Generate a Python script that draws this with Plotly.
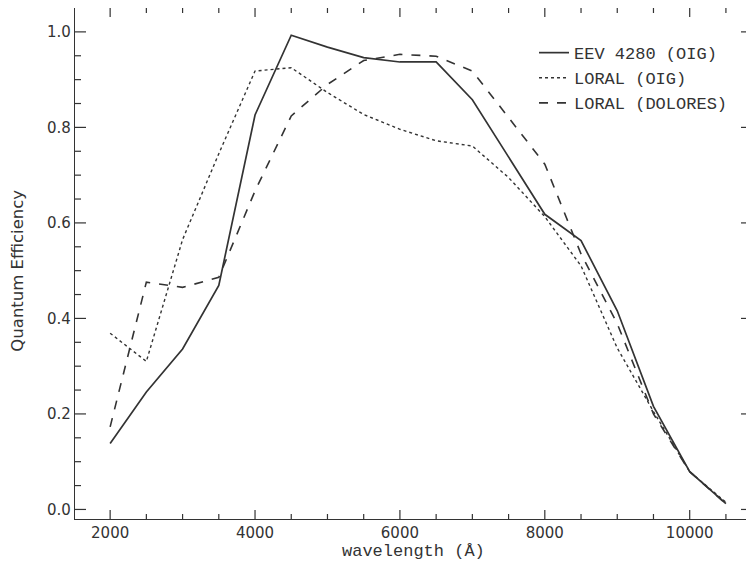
import plotly.graph_objects as go

wavelength = [2000, 2500, 3000, 3500, 4000, 4500, 5000, 5500, 6000, 6500,
              7000, 7500, 8000, 8500, 9000, 9500, 10000, 10500]

eev_oig = [0.138, 0.246, 0.336, 0.469, 0.826, 0.993, 0.968, 0.946, 0.937, 0.937,
           0.858, 0.738, 0.618, 0.563, 0.416, 0.216, 0.079, 0.012]

loral_oig = [0.369, 0.310, 0.565, 0.745, 0.918, 0.925, 0.873, 0.827, 0.796, 0.772,
             0.761, 0.695, 0.613, 0.510, 0.338, 0.205, 0.079, 0.015]

loral_dolores = [0.173, 0.476, 0.465, 0.486, 0.667, 0.824, 0.890, 0.940, 0.953, 0.949,
                 0.918, 0.820, 0.723, 0.535, 0.389, 0.200, 0.079, 0.012]

series_names = ["EEV 4280 (OIG)", "LORAL (OIG)", "LORAL (DOLORES)"]

x_major_ticks = [2000, 4000, 6000, 8000, 10000]
x_tick_labels = ["2000", "4000", "6000", "8000", "10000"]
x_minor_ticks = [2500, 3000, 3500, 4500, 5000, 5500, 6500, 7000, 7500,
                 8500, 9000, 9500, 10500]
y_major_ticks = [0.0, 0.2, 0.4, 0.6, 0.8, 1.0]
y_tick_labels = ["0.0", "0.2", "0.4", "0.6", "0.8", "1.0"]
y_minor_ticks = [0.05, 0.1, 0.15, 0.25, 0.3, 0.35, 0.45, 0.5, 0.55,
                 0.65, 0.7, 0.75, 0.85, 0.9, 0.95]

x_range = [1515, 10860]
y_range = [-0.02, 1.05]

ink = "#333333"

fig = go.Figure()
for name, vals, dash, w in [
    (series_names[0], eev_oig, "solid", 1.7),
    (series_names[1], loral_oig, "dot", 1.4),
    (series_names[2], loral_dolores, "dash", 1.6),
]:
    fig.add_trace(go.Scatter(
        x=wavelength, y=vals, mode="lines", name=name,
        line=dict(color=ink, width=w, dash=dash),
    ))

tickfont = dict(family="DejaVu Sans", size=15, color=ink)

# inward tick marks on all four sides, placed through the axes' own scales
tick_shapes = []
for vals, ln in [(x_major_ticks, 9), (x_minor_ticks, 5)]:
    for v in vals:
        for anchor, sgn in [(0, 1), (1, -1)]:
            tick_shapes.append(dict(
                type="line", xref="x", yref="paper", ysizemode="pixel", yanchor=anchor,
                x0=v, x1=v, y0=0, y1=sgn * ln, layer="above",
                line=dict(color=ink, width=1.2),
            ))
for vals, ln in [(y_major_ticks, 11), (y_minor_ticks, 6)]:
    for v in vals:
        for anchor, sgn in [(0, 1), (1, -1)]:
            tick_shapes.append(dict(
                type="line", xref="paper", yref="y", xsizemode="pixel", xanchor=anchor,
                y0=v, y1=v, x0=0, x1=sgn * ln, layer="above",
                line=dict(color=ink, width=1.2),
            ))

fig.update_layout(
    xaxis=dict(
        range=x_range, tickmode="array", tickvals=x_major_ticks, ticktext=x_tick_labels,
        showline=True, linecolor=ink, linewidth=1.2, mirror=True, ticks="",
        showgrid=False, zeroline=False, automargin=False, tickfont=tickfont,
    ),
    yaxis=dict(
        range=y_range, tickmode="array", tickvals=y_major_ticks, ticktext=y_tick_labels,
        showline=True, linecolor=ink, linewidth=1.2, mirror=True, ticks="",
        showgrid=False, zeroline=False, automargin=False, tickfont=tickfont,
    ),
    shapes=tick_shapes,
    width=746, height=561,
    margin=dict(l=67, r=2, t=0, b=50),
    paper_bgcolor="white", plot_bgcolor="white",
    showlegend=True,
    legend=dict(
        x=0.678, y=0.947, xanchor="left", yanchor="top",
        bgcolor="rgba(0,0,0,0)", borderwidth=0,
        font=dict(family="Liberation Mono", size=17, color=ink),
        tracegroupgap=0, itemwidth=30,
    ),
    annotations=[
        dict(text="wavelength (Å)", xref="paper", yref="paper", x=0.5, y=-0.0645,
             xanchor="center", yanchor="middle", showarrow=False,
             font=dict(family="Liberation Mono", size=17, color=ink)),
        dict(text="Quantum Efficiency", xref="paper", yref="paper", x=-0.0842, y=0.486,
             xanchor="center", yanchor="middle", showarrow=False, textangle=-90,
             font=dict(family="DejaVu Sans", size=16.5, color=ink)),
    ],
)

fig.write_html("out.html")
